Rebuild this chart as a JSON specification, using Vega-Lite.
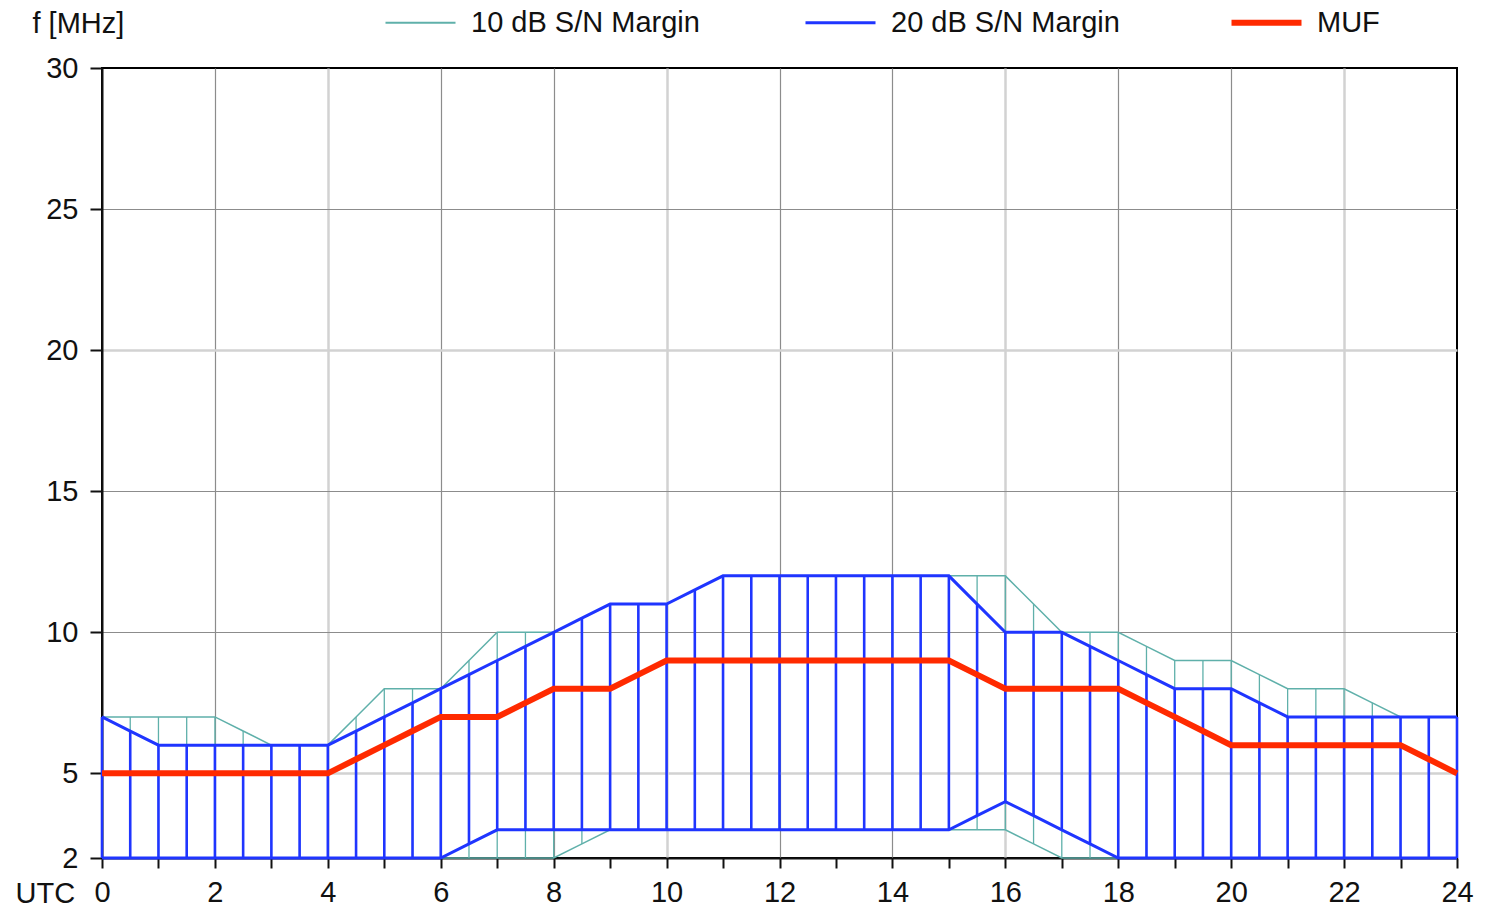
{
  "$schema": "https://vega.github.io/schema/vega-lite/v6.json",
  "width": 1355,
  "height": 790,
  "autosize": {"type": "none"},
  "padding": {"left": 102, "top": 68, "right": 36, "bottom": 49},
  "background": "white",
  "config": {
    "font": "Liberation Sans",
    "view": {"stroke": "black", "strokeWidth": 2},
    "axis": {"labelFont": "Liberation Sans", "titleFont": "Liberation Sans", "labelColor": "#111", "titleColor": "#111", "titleFontWeight": "normal"}
  },
  "data": {"values": [
    {"t": 0, "lo10": 2, "hi10": 7, "lo20": 2, "hi20": 7, "muf": 5},
    {"t": 0.5, "lo10": 2, "hi10": 7, "lo20": 2, "hi20": 6.5, "muf": 5},
    {"t": 1, "lo10": 2, "hi10": 7, "lo20": 2, "hi20": 6, "muf": 5},
    {"t": 1.5, "lo10": 2, "hi10": 7, "lo20": 2, "hi20": 6, "muf": 5},
    {"t": 2, "lo10": 2, "hi10": 7, "lo20": 2, "hi20": 6, "muf": 5},
    {"t": 2.5, "lo10": 2, "hi10": 6.5, "lo20": 2, "hi20": 6, "muf": 5},
    {"t": 3, "lo10": 2, "hi10": 6, "lo20": 2, "hi20": 6, "muf": 5},
    {"t": 3.5, "lo10": 2, "hi10": 6, "lo20": 2, "hi20": 6, "muf": 5},
    {"t": 4, "lo10": 2, "hi10": 6, "lo20": 2, "hi20": 6, "muf": 5},
    {"t": 4.5, "lo10": 2, "hi10": 7, "lo20": 2, "hi20": 6.5, "muf": 5.5},
    {"t": 5, "lo10": 2, "hi10": 8, "lo20": 2, "hi20": 7, "muf": 6},
    {"t": 5.5, "lo10": 2, "hi10": 8, "lo20": 2, "hi20": 7.5, "muf": 6.5},
    {"t": 6, "lo10": 2, "hi10": 8, "lo20": 2, "hi20": 8, "muf": 7},
    {"t": 6.5, "lo10": 2, "hi10": 9, "lo20": 2.5, "hi20": 8.5, "muf": 7},
    {"t": 7, "lo10": 2, "hi10": 10, "lo20": 3, "hi20": 9, "muf": 7},
    {"t": 7.5, "lo10": 2, "hi10": 10, "lo20": 3, "hi20": 9.5, "muf": 7.5},
    {"t": 8, "lo10": 2, "hi10": 10, "lo20": 3, "hi20": 10, "muf": 8},
    {"t": 8.5, "lo10": 2.5, "hi10": 10.5, "lo20": 3, "hi20": 10.5, "muf": 8},
    {"t": 9, "lo10": 3, "hi10": 11, "lo20": 3, "hi20": 11, "muf": 8},
    {"t": 9.5, "lo10": 3, "hi10": 11, "lo20": 3, "hi20": 11, "muf": 8.5},
    {"t": 10, "lo10": 3, "hi10": 11, "lo20": 3, "hi20": 11, "muf": 9},
    {"t": 10.5, "lo10": 3, "hi10": 11.5, "lo20": 3, "hi20": 11.5, "muf": 9},
    {"t": 11, "lo10": 3, "hi10": 12, "lo20": 3, "hi20": 12, "muf": 9},
    {"t": 11.5, "lo10": 3, "hi10": 12, "lo20": 3, "hi20": 12, "muf": 9},
    {"t": 12, "lo10": 3, "hi10": 12, "lo20": 3, "hi20": 12, "muf": 9},
    {"t": 12.5, "lo10": 3, "hi10": 12, "lo20": 3, "hi20": 12, "muf": 9},
    {"t": 13, "lo10": 3, "hi10": 12, "lo20": 3, "hi20": 12, "muf": 9},
    {"t": 13.5, "lo10": 3, "hi10": 12, "lo20": 3, "hi20": 12, "muf": 9},
    {"t": 14, "lo10": 3, "hi10": 12, "lo20": 3, "hi20": 12, "muf": 9},
    {"t": 14.5, "lo10": 3, "hi10": 12, "lo20": 3, "hi20": 12, "muf": 9},
    {"t": 15, "lo10": 3, "hi10": 12, "lo20": 3, "hi20": 12, "muf": 9},
    {"t": 15.5, "lo10": 3, "hi10": 12, "lo20": 3.5, "hi20": 11, "muf": 8.5},
    {"t": 16, "lo10": 3, "hi10": 12, "lo20": 4, "hi20": 10, "muf": 8},
    {"t": 16.5, "lo10": 2.5, "hi10": 11, "lo20": 3.5, "hi20": 10, "muf": 8},
    {"t": 17, "lo10": 2, "hi10": 10, "lo20": 3, "hi20": 10, "muf": 8},
    {"t": 17.5, "lo10": 2, "hi10": 10, "lo20": 2.5, "hi20": 9.5, "muf": 8},
    {"t": 18, "lo10": 2, "hi10": 10, "lo20": 2, "hi20": 9, "muf": 8},
    {"t": 18.5, "lo10": 2, "hi10": 9.5, "lo20": 2, "hi20": 8.5, "muf": 7.5},
    {"t": 19, "lo10": 2, "hi10": 9, "lo20": 2, "hi20": 8, "muf": 7},
    {"t": 19.5, "lo10": 2, "hi10": 9, "lo20": 2, "hi20": 8, "muf": 6.5},
    {"t": 20, "lo10": 2, "hi10": 9, "lo20": 2, "hi20": 8, "muf": 6},
    {"t": 20.5, "lo10": 2, "hi10": 8.5, "lo20": 2, "hi20": 7.5, "muf": 6},
    {"t": 21, "lo10": 2, "hi10": 8, "lo20": 2, "hi20": 7, "muf": 6},
    {"t": 21.5, "lo10": 2, "hi10": 8, "lo20": 2, "hi20": 7, "muf": 6},
    {"t": 22, "lo10": 2, "hi10": 8, "lo20": 2, "hi20": 7, "muf": 6},
    {"t": 22.5, "lo10": 2, "hi10": 7.5, "lo20": 2, "hi20": 7, "muf": 6},
    {"t": 23, "lo10": 2, "hi10": 7, "lo20": 2, "hi20": 7, "muf": 6},
    {"t": 23.5, "lo10": 2, "hi10": 7, "lo20": 2, "hi20": 7, "muf": 5.5},
    {"t": 24, "lo10": 2, "hi10": 7, "lo20": 2, "hi20": 7, "muf": 5}
  ]},
  "encoding": {
    "x": {
      "field": "t", "type": "quantitative",
      "scale": {"domain": [0, 24], "nice": false, "zero": false},
      "axis": {
        "title": "UTC", "titleFontSize": 29, "titleAngle": 0, "titleAlign": "left", "titleBaseline": "middle",
        "titleX": -87, "titleY": 35,
        "values": [0,1,2,3,4,5,6,7,8,9,10,11,12,13,14,15,16,17,18,19,20,21,22,23,24],
        "labelExpr": "datum.value % 2 == 0 ? datum.label : ''",
        "labelFontSize": 29, "labelPadding": 10, "labelFlush": false,
        "tickSize": 10, "tickWidth": 2, "tickColor": "#111",
        "domainColor": "#111", "domainWidth": 2,
        "grid": true,
        "gridColor": {"condition": {"test": "datum.value % 6 == 4", "value": "#d2d2d2"}, "value": "#8c8c8c"},
        "gridWidth": {"condition": {"test": "datum.value % 6 == 4", "value": 2.5}, "value": 1.2},
        "gridOpacity": {"condition": {"test": "datum.value % 2 == 1 || datum.value == 0 || datum.value == 24", "value": 0}, "value": 1}
      }
    }
  },
  "layer": [
    {
      "mark": {"type": "rule", "color": "#5fb0aa", "strokeWidth": 1.3},
      "encoding": {
        "y": {"field": "lo10", "type": "quantitative"},
        "y2": {"field": "hi10"}
      }
    },
    {
      "mark": {"type": "line", "strokeWidth": 1.5},
      "encoding": {
        "y": {"field": "hi10", "type": "quantitative",
          "scale": {"domain": [2, 30], "nice": false, "zero": false},
          "axis": {
            "title": "f [MHz]", "titleFontSize": 29, "titleAngle": 0, "titleAlign": "left", "titleBaseline": "middle",
            "titleX": -70, "titleY": -45,
            "values": [2, 5, 10, 15, 20, 25, 30],
            "labelFontSize": 29, "labelPadding": 12,
            "tickSize": 12, "tickWidth": 2, "tickColor": "#111",
            "domainColor": "#111", "domainWidth": 2,
            "grid": true,
            "gridColor": {"condition": {"test": "datum.value == 5 || datum.value == 20", "value": "#d2d2d2"}, "value": "#8c8c8c"},
            "gridWidth": {"condition": {"test": "datum.value == 5 || datum.value == 20", "value": 2.5}, "value": 1.2},
            "gridOpacity": {"condition": {"test": "datum.value == 2 || datum.value == 30", "value": 0}, "value": 1}
          }
        },
        "color": {"datum": "10 dB S/N Margin", "type": "nominal",
          "scale": {"domain": ["10 dB S/N Margin", "20 dB S/N Margin", "MUF"], "range": ["#5fb0aa", "#1f35ff", "#ff2a00"]},
          "legend": {
            "title": null, "orient": "none", "direction": "horizontal",
            "legendX": 304, "legendY": -60,
            "symbolType": "stroke", "symbolSize": 4900, "symbolStrokeWidth": 3,
            "labelFontSize": 29, "labelOffset": 36, "labelColor": "#111", "labelLimit": 400,
            "columnPadding": 99,
            "encode": {"symbols": {"update": {"strokeWidth": {"signal": "datum.value === 'MUF' ? 6 : datum.value === '20 dB S/N Margin' ? 3 : 1.8"}}}}
          }
        }
      }
    },
    {
      "mark": {"type": "line", "strokeWidth": 1.5},
      "encoding": {
        "y": {"field": "lo10", "type": "quantitative"},
        "color": {"datum": "10 dB S/N Margin", "type": "nominal"}
      }
    },
    {
      "mark": {"type": "rule", "color": "#1f35ff", "strokeWidth": 2.6},
      "encoding": {
        "y": {"field": "lo20", "type": "quantitative"},
        "y2": {"field": "hi20"}
      }
    },
    {
      "mark": {"type": "line", "strokeWidth": 3},
      "encoding": {
        "y": {"field": "hi20", "type": "quantitative"},
        "color": {"datum": "20 dB S/N Margin", "type": "nominal"}
      }
    },
    {
      "mark": {"type": "line", "strokeWidth": 3},
      "encoding": {
        "y": {"field": "lo20", "type": "quantitative"},
        "color": {"datum": "20 dB S/N Margin", "type": "nominal"}
      }
    },
    {
      "mark": {"type": "line", "strokeWidth": 6},
      "encoding": {
        "y": {"field": "muf", "type": "quantitative"},
        "color": {"datum": "MUF", "type": "nominal"}
      }
    }
  ]
}
